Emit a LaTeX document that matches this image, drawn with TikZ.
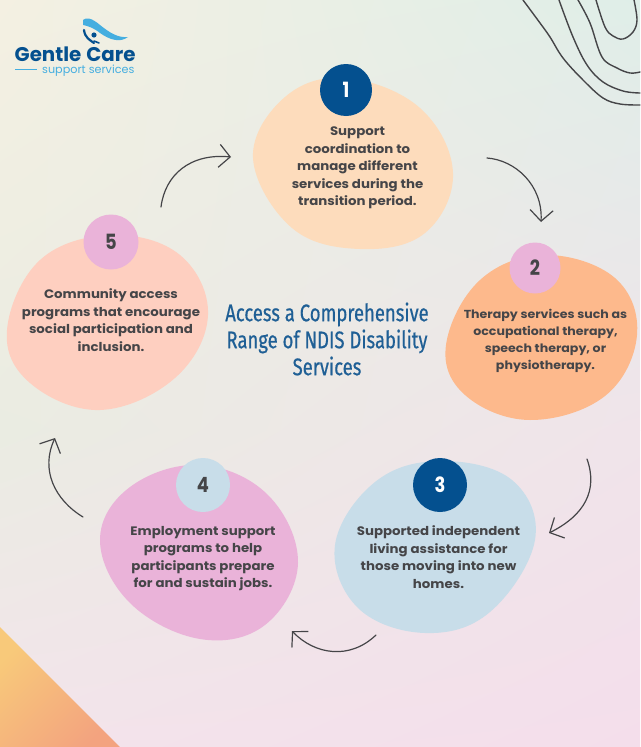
\documentclass[tikz,border=0pt]{standalone}
\usepackage{fontspec}
\setmainfont{Poppins}
\newfontfamily\titlefont[FakeStretch=0.77,FakeBold=0.5]{Fira Sans}
\newfontfamily\digitfont[FakeStretch=0.85]{Poppins}
\newfontfamily\blurbfont[FakeStretch=1.085]{Poppins}
\usetikzlibrary{arrows.meta,shadings}
\definecolor{navy}{HTML}{04508F}
\definecolor{peach}{HTML}{FDDCBC}
\definecolor{tangerine}{HTML}{FDB98C}
\definecolor{mist}{HTML}{C8DDE9}
\definecolor{orchid}{HTML}{EAB3D9}
\definecolor{salmon}{HTML}{FECFC0}
\definecolor{ink}{HTML}{454548}
\definecolor{sky}{HTML}{45AEE0}
\definecolor{heading}{HTML}{1F5F95}
\definecolor{bgA}{RGB}{244,240,226}
\definecolor{bgB}{RGB}{223,238,232}
\definecolor{bgC}{RGB}{234,236,226}
\definecolor{bgD}{RGB}{240,228,234}
\definecolor{bgE}{RGB}{243,228,235}
\definecolor{bgF}{RGB}{244,222,235}
\definecolor{wedgeA}{HTML}{F8C97A}
\definecolor{wedgeB}{HTML}{F3A37F}
\tikzset{
	blob/.style={smooth cycle, tension=.65},
	flow/.style={draw=ink, line width=1.2pt, line cap=round, -{Straight Barb[length=11pt,width=23pt,line width=1.2pt]}},
	contour/.style={draw=ink, line width=1.4pt, line cap=round},
	blurb/.style={text=ink, font=\blurbfont\bfseries\fontsize{12.3}{17.5}\selectfont, align=center, inner sep=0pt},
	badge/.style={circle, inner sep=0pt, font=\digitfont\bfseries\fontsize{21}{21}\selectfont},
}
\begin{document}
\begin{tikzpicture}[x=1pt, y=-1pt, line join=round]
	\useasboundingbox (0,0) rectangle (640,747);
	% background
	\shade[upper left=bgA, upper right=bgB, lower left=bgC, lower right=bgD] (0,0) rectangle (640,430);
	\shade[upper left=bgC, upper right=bgD, lower left=bgE, lower right=bgF] (0,430) rectangle (640,747);
	\shade[left color=wedgeA, right color=wedgeB, shading angle=45] (0,627)--(120,747)--(0,747)--cycle;
	% contour lines
	\draw[contour] plot[smooth, tension=.6] coordinates {(523,0) (540,23) (550,37) (563,58) (583,80) (603,98) (620,104) (640,105)};
	\draw[contour] plot[smooth, tension=.6] coordinates {(559,0) (573,37) (587,65) (603,82) (623,91) (640,93)};
	\draw[contour] plot[smooth, tension=.6] coordinates {(578,0) (590,23) (602,57) (617,68) (630,73) (640,72)};
	\draw[contour] plot[smooth, tension=.6] coordinates {(596,0) (605,27) (613,36) (623,39) (633,32) (637,20) (634,0)};
	% logo
	\fill[sky] (83,20) .. controls (86,17) and (92,18) .. (100,25) .. controls (110,33) and (118,38) .. (128,37)
		.. controls (120,43) and (110,40) .. (100,33) .. controls (94,28) and (88,26) .. (83,25) -- cycle;
	\fill[navy] (94,35) circle (2.6);
	\draw[navy, line width=2.2pt, line cap=round] (84,30) .. controls (85,38) and (90,40) .. (94,43);
	\draw[navy, line width=1.6pt, line cap=round] (94,41) -- (99,43);
	\node[inner sep=0pt, anchor=base west, text=navy, font=\bfseries\fontsize{19.8}{19.8}\selectfont] (logoname) at (14.5,61) {Gentle\hspace{5pt}Care};
	\node[inner sep=0pt, anchor=base west, text=sky, font=\fontsize{11.2}{11.2}\selectfont] (logosub) at (42,73) {support services};
	\draw[sky, line width=.8pt] (15,69) -- (37,69);
	% blobs
	\fill[peach] plot[blob] coordinates {(346,78) (420,108) (453,173) (425,233) (360,249) (292,228) (253,158) (285,97)};
	\fill[tangerine] plot[blob] coordinates {(545,255) (615,278) (637,335) (605,396) (530,420) (465,395) (446,345) (480,280)};
	\fill[mist] plot[blob] coordinates {(440,461) (512,480) (535,540) (490,612) (425,633) (358,608) (335,545) (375,482)};
	\fill[orchid] plot[blob] coordinates {(200,465) (268,495) (298,563) (265,625) (200,639) (130,603) (100,540) (130,487)};
	\fill[salmon] plot[blob] coordinates {(111,235) (180,255) (208,315) (175,378) (100,410) (30,383) (7,330) (40,260)};
	% number badges
	\foreach \nr/\xx/\yy/\rr/\bg/\fg in {1/346/90/26/navy/white, 2/535/268/25.5/orchid/ink, 3/440/485/27/navy/white, 4/203/485/27/mist/ink, 5/111/242/27.5/orchid/ink}
		\node[badge, fill=\bg, text=\fg, minimum size=2*\rr pt] (badge\nr) at (\xx,\yy) {\nr};
	% texts
	\node[blurb] (text1) at (357.5,168) {Support\\coordination to\\manage different\\services during the\\transition period.};
	\node[blurb, font=\blurbfont\bfseries\fontsize{11.6}{17}\selectfont] (text2) at (545.5,341) {Therapy services such as\\occupational therapy,\\speech therapy, or\\physiotherapy.};
	\node[blurb] (text3) at (438.5,557) {Supported independent\\living assistance for\\those moving into new\\homes.};
	\node[blurb] (text4) at (203,558.5) {Employment support\\programs to help\\participants prepare\\for and sustain jobs.};
	\node[blurb] (text5) at (111,320) {Community access\\programs that encourage\\social participation and\\inclusion.};
	\node[text=heading, font=\titlefont\fontsize{24}{27}\selectfont, align=center, inner sep=0pt] (title) at (327,339)
		{Access a Comprehensive\\Range of NDIS Disability\\Services};
	% arrows
	\coordinate (start1) at (161,207);
	\coordinate (end1) at (231,157);
	\coordinate (start2) at (487,158);
	\coordinate (end2) at (541,222);
	\coordinate (start3) at (587,459);
	\coordinate (end3) at (549,533);
	\coordinate (start4) at (376,635);
	\coordinate (end4) at (292,631);
	\coordinate (start5) at (83,517);
	\coordinate (end5) at (55,438);
	\draw[flow] (start1) .. controls (165,175) and (190,153) .. (end1);
	\draw[flow] (start2) .. controls (515,160) and (543,185) .. (end2);
	\draw[flow] (start3) .. controls (598,490) and (585,515) .. (end3);
	\draw[flow] (start4) .. controls (350,660) and (315,655) .. (end4);
	\draw[flow] (start5) .. controls (55,500) and (40,470) .. (end5);
\end{tikzpicture}
\end{document}
